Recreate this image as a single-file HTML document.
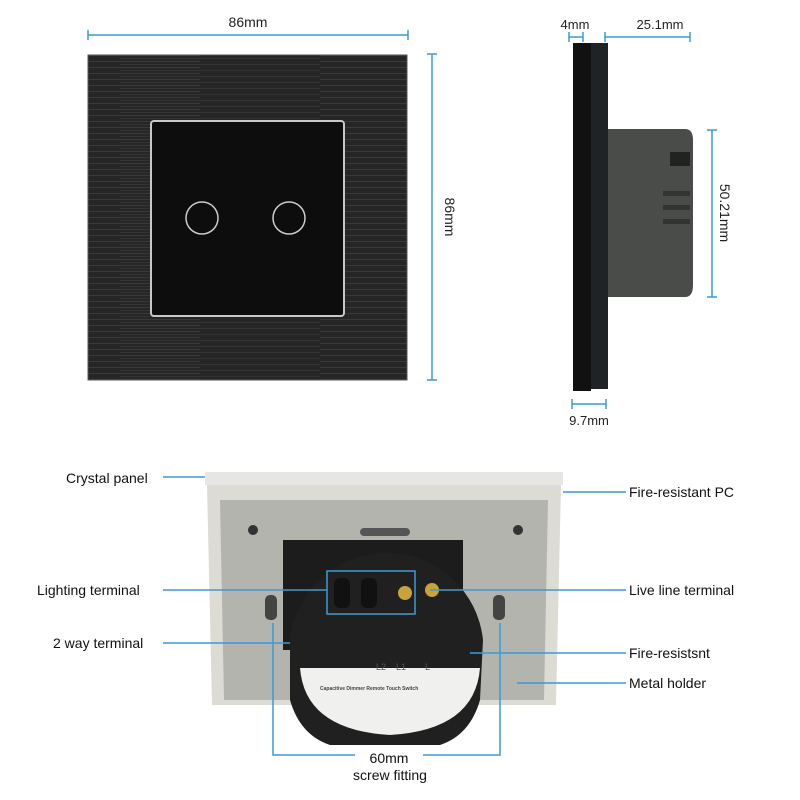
<!DOCTYPE html>
<html><head><style>html,body{margin:0;padding:0;background:#fff}svg{display:block}</style></head>
<body>
<svg width="800" height="800" viewBox="0 0 800 800" xmlns="http://www.w3.org/2000/svg" font-family="Liberation Sans, sans-serif">
<defs>
<pattern id="brush" width="320" height="6" patternUnits="userSpaceOnUse">
<rect width="320" height="6" fill="#262626"/>
<rect y="1" width="200" height="1" fill="#3a3a3a"/>
<rect x="120" y="4" width="200" height="1" fill="#333"/>
</pattern>
</defs>
<!-- front panel -->
<rect x="88" y="55" width="319" height="325" fill="url(#brush)"/>
<rect x="88" y="55" width="319" height="325" fill="none" stroke="#555" stroke-width="1"/>
<rect x="151" y="121" width="193" height="195" rx="3" fill="#0d0d0d" stroke="#c8c8c8" stroke-width="2"/>
<circle cx="202" cy="218" r="16" fill="none" stroke="#ccc" stroke-width="1.5"/>
<circle cx="289" cy="218" r="16" fill="none" stroke="#ccc" stroke-width="1.5"/>
<g stroke="#3a9ad9" stroke-width="1.5" fill="none">
<path d="M88 35H408M88 30V40M408 30V40"/>
<path d="M432 54V380M427 54H437M427 380H437"/>
<path d="M569 37H583M569 32V42M583 32V42"/>
<path d="M605 37H690M605 32V42M690 32V42"/>
<path d="M712 130V297M707 130H717M707 297H717"/>
<path d="M572 404H606M572 399V409M606 399V409"/>
</g>
<text x="248" y="27" font-size="14" text-anchor="middle" fill="#222">86mm</text>
<text transform="translate(445,217) rotate(90)" font-size="14" text-anchor="middle" fill="#222">86mm</text>
<text x="575" y="29" font-size="13" text-anchor="middle" fill="#222">4mm</text>
<text x="660" y="29" font-size="13" text-anchor="middle" fill="#222">25.1mm</text>
<text transform="translate(720,213) rotate(90)" font-size="14" text-anchor="middle" fill="#222">50.21mm</text>
<text x="589" y="425" font-size="13" text-anchor="middle" fill="#222">9.7mm</text>
<!-- side view -->
<rect x="573" y="43" width="18" height="348" fill="#111"/>
<rect x="591" y="43" width="17" height="346" fill="#1f2326"/>
<path d="M608 129H685Q693 129 693 140V285Q693 297 685 297H608Z" fill="#4a4c4a"/>
<rect x="670" y="152" width="20" height="14" fill="#222"/>
<rect x="663" y="191" width="27" height="5" fill="#333"/><rect x="663" y="205" width="27" height="5" fill="#333"/><rect x="663" y="219" width="27" height="5" fill="#333"/>
<!-- back view -->
<rect x="205" y="472" width="358" height="13" fill="#e6e6e4"/>
<path d="M207 485H561L556 705H212Z" fill="#dcdcd4"/>
<path d="M220 500H548L544 700H224Z" fill="#b4b4ae"/>
<circle cx="253" cy="530" r="5" fill="#333"/><circle cx="518" cy="530" r="5" fill="#333"/>
<rect x="360" y="528" width="50" height="8" rx="4" fill="#555"/>
<rect x="283" y="540" width="180" height="110" fill="#1c1c1c"/>
<rect x="265" y="595" width="12" height="25" rx="5" fill="#444"/><rect x="493" y="595" width="12" height="25" rx="5" fill="#444"/>
<path d="M290 640A97 97 0 0 1 483 640L480 700Q470 735 440 745H330Q300 735 290 700Z" fill="#202020"/>
<path d="M300 668H480Q475 730 390 735Q305 730 300 668Z" fill="#f0f0ee"/>
<text x="376" y="670" font-size="9" fill="#555">L2</text><text x="396" y="670" font-size="9" fill="#555">L1</text><text x="425" y="670" font-size="9" fill="#555">L</text>
<text x="320" y="690" font-size="5" fill="#444" font-weight="bold">Capacitive Dimmer Remote Touch Switch</text>
<rect x="334" y="578" width="16" height="30" rx="6" fill="#111"/><rect x="361" y="578" width="16" height="30" rx="6" fill="#111"/>
<circle cx="405" cy="593" r="7" fill="#c9a23a"/><circle cx="432" cy="590" r="7" fill="#c9a23a"/>
<g stroke="#3a9ad9" stroke-width="1.5" fill="none">
<path d="M163 477H205"/><path d="M563 492H626"/>
<path d="M163 590H327"/><rect x="327" y="571" width="88" height="43"/>
<path d="M430 590H626"/><path d="M163 643H290"/>
<path d="M470 653H626"/><path d="M517 683H626"/>
<path d="M273 623V755H355M423 755H500V623"/>
</g>
<g font-size="14" fill="#111">
<text x="66" y="483">Crystal panel</text>
<text x="629" y="497">Fire-resistant PC</text>
<text x="37" y="595">Lighting terminal</text>
<text x="629" y="595">Live line terminal</text>
<text x="53" y="648">2 way terminal</text>
<text x="629" y="658">Fire-resistsnt</text>
<text x="629" y="688">Metal holder</text>
<text x="389" y="763" text-anchor="middle">60mm</text>
<text x="390" y="780" text-anchor="middle">screw fitting</text>
</g>
</svg>
</body></html>
